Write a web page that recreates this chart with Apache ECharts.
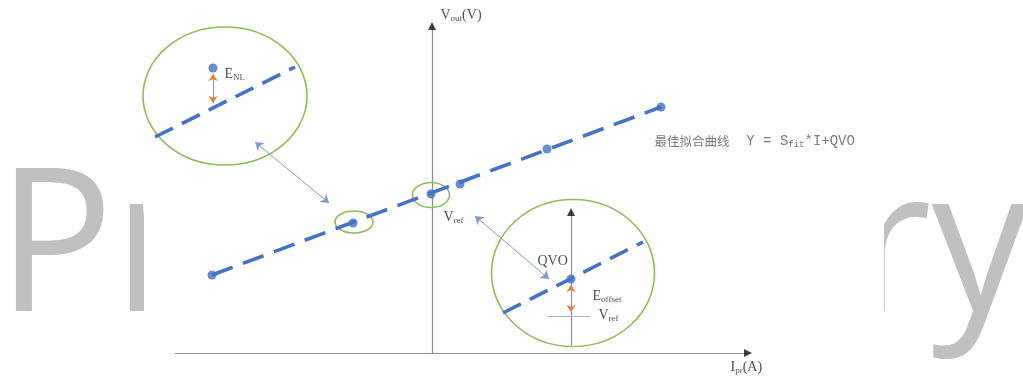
<!DOCTYPE html>
<html>
<head>
    <meta charset="UTF-8"/>
    <title>最佳拟合曲线</title>
    <style>
        html, body { margin: 0; padding: 0; background: #fff; }
        #chart { width: 1023px; height: 379px; }
    </style>
</head>
<body>
<div id="chart"></div>
<script src="https://cdn.jsdelivr.net/npm/echarts@6/dist/echarts.min.js"></script>
<script type="text/javascript">
    // 坐标单位: 1 = 10px, 原点在两轴交点
    const fitPoints = [[-22.0, 7.8], [-7.9, 13.0], [-0.1, 15.9], [2.8, 16.9], [11.5, 20.4], [22.9, 24.6]];
    const fitLine = [[-22.0, 7.8], [22.9, 24.6]];
    // 放大圈: 中心x, 中心y, 半径x, 半径y
    const zoomRings = [[-20.7, 25.7, 8.2, 6.9], [-7.8, 13.1, 1.9, 1.1], [-0.1, 15.8, 1.85, 1.25], [14.1, 8.0, 8.15, 7.35]];
    const insetLines = [[[-27.7, 21.6], [-13.7, 28.6]], [[7.1, 4.0], [21.1, 11.1]]];
    const insetPoints = [[-21.9, 28.5], [13.9, 7.4]];
    const errorArrows = [[[-21.9, 27.9], [-21.9, 25.0]], [[13.9, 6.8], [13.9, 4.1]]];
    const linkArrows = [[[-17.7, 21.1], [-10.3, 15.0]], [[4.3, 13.7], [11.7, 7.4]]];
    const axisLines = [[[-25.7, 0], [31.7, 0]], [[0, 0], [0, 32.8]], [[13.9, 0.8], [13.9, 14.2]]];
    const arrowTips = [[0, 32.7, 0], [31.6, 0, -90], [13.9, 14.1, 0]];
    const refLines = [[[11.5, 3.7], [15.8, 3.7]]];
    const labelPos = [[0.8, 33.7], [29.8, -1.5], [22.2, 21.1], [-20.8, 27.8], [1.1, 13.5], [10.5, 9.1], [16.0, 5.6], [16.6, 3.7]];
    const labelText = [
        '{n|V}{s|out}{n|(V)}',
        '{n|I}{s|pr}{n|(A)}',
        '{c|最佳拟合曲线}{m|  Y = S}{t|fit}{m|*I+QVO}',
        '{n|E}{s|NL}',
        '{n|V}{s|ref}',
        '{n|QVO}',
        '{n|E}{s|offset}',
        '{n|V}{s|ref}'
    ];

    const blue = '#4472C4';
    const serif = '"Liberation Serif", "Times New Roman", serif';

    const chart = echarts.init(document.getElementById('chart'));

    function toLines(list) {
        return list.map(function (c) { return {coords: c}; });
    }

    const option = {
        animation: false,
        backgroundColor: '#fff',
        grid: {left: 0, right: 0, top: 0, bottom: 0},
        xAxis: {type: 'value', min: -43.2, max: 59.1, show: false},
        yAxis: {type: 'value', min: -2.6, max: 35.3, show: false},
        graphic: [
            {
                type: 'text', z: 0, silent: true,
                scaleX: 0.967,
                x: -3, y: 254,
                style: {
                    text: 'Preliminary',
                    font: '200px "Open Sans"',
                    fill: '#c0c0c0',
                    verticalAlign: 'middle'
                }
            },
            {
                type: 'rect', z: 1, silent: true,
                shape: {x: 144, y: 0, width: 740, height: 379},
                style: {fill: '#fff'}
            }
        ],
        series: [
            {
                type: 'lines', coordinateSystem: 'cartesian2d', silent: true,
                data: toLines(axisLines),
                symbol: 'none',
                lineStyle: {color: '#8c8c8c', width: 1.2, opacity: 1}
            },
            {
                type: 'scatter', silent: true,
                data: arrowTips,
                symbol: 'triangle',
                symbolSize: [8, 8],
                symbolRotate: function (v) { return v[2]; },
                itemStyle: {color: '#111'}
            },
            {
                type: 'lines', coordinateSystem: 'cartesian2d', silent: true,
                data: toLines(refLines),
                symbol: 'none',
                lineStyle: {color: '#a3b2cf', width: 1, opacity: 1}
            },
            {
                type: 'custom', silent: true,
                data: zoomRings,
                renderItem: function (params, api) {
                    const c = api.coord([api.value(0), api.value(1)]);
                    const s = api.size([api.value(2), api.value(3)]);
                    const rx = s[0], ry = s[1];
                    const d = 'M' + (c[0] - rx) + ' ' + c[1] +
                        ' A' + rx + ' ' + ry + ' 0 1 0 ' + (c[0] + rx) + ' ' + c[1] +
                        ' A' + rx + ' ' + ry + ' 0 1 0 ' + (c[0] - rx) + ' ' + c[1] + ' Z';
                    return {
                        type: 'path',
                        shape: {pathData: d},
                        style: {fill: 'none', stroke: '#8fbc5b', lineWidth: 1.6}
                    };
                }
            },
            {
                type: 'line', silent: true,
                data: fitLine,
                showSymbol: false,
                lineStyle: {color: blue, width: 3.6, type: [22, 11]}
            },
            {
                type: 'lines', coordinateSystem: 'cartesian2d', silent: true,
                data: toLines(insetLines),
                symbol: 'none',
                lineStyle: {color: blue, width: 3.6, type: [20, 10], opacity: 1}
            },
            {
                type: 'lines', coordinateSystem: 'cartesian2d', silent: true,
                data: toLines(linkArrows),
                symbol: ['arrow', 'arrow'],
                symbolSize: 8,
                lineStyle: {color: '#7f9bd2', width: 1, opacity: 1}
            },
            {
                type: 'lines', coordinateSystem: 'cartesian2d', silent: true,
                data: toLines(errorArrows),
                symbol: ['arrow', 'arrow'],
                symbolSize: 7,
                lineStyle: {color: '#ED7D31', width: 1, opacity: 1}
            },
            {
                type: 'scatter', silent: true,
                data: fitPoints.concat(insetPoints),
                symbolSize: 9,
                itemStyle: {color: blue}
            },
            {
                type: 'scatter', silent: true,
                data: labelPos.map(function (p, i) {
                    return {value: p, label: {formatter: labelText[i]}};
                }),
                symbolSize: 1,
                itemStyle: {color: 'transparent'},
                label: {
                    show: true,
                    position: 'right',
                    distance: 0,
                    rich: {
                        n: {fontFamily: serif, fontSize: 14, color: '#222', lineHeight: 15, verticalAlign: 'top'},
                        s: {fontFamily: serif, fontSize: 9, color: '#222', lineHeight: 9, padding: [7, 0, 0, 0], verticalAlign: 'bottom'},
                        c: {fontFamily: '"Noto Sans CJK SC"', fontSize: 12.5, color: '#595959', lineHeight: 15, verticalAlign: 'top'},
                        m: {fontFamily: '"Liberation Mono", monospace', fontSize: 14, color: '#595959', lineHeight: 15, verticalAlign: 'top'},
                        t: {fontFamily: '"Liberation Mono", monospace', fontSize: 9, color: '#595959', lineHeight: 9, padding: [7, 0, 0, 0], verticalAlign: 'bottom'}
                    }
                }
            }
        ]
    };
    chart.setOption(option);
</script>
</body>
</html>
